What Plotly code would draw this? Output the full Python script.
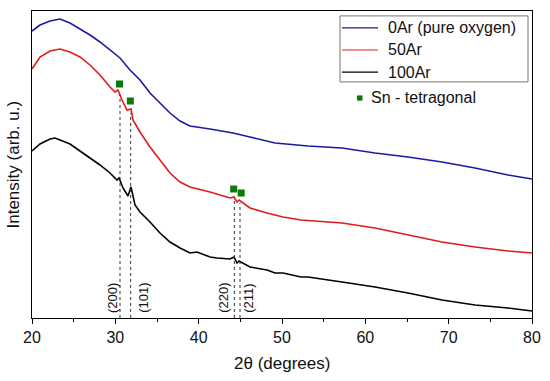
import plotly.graph_objects as go

# ---- data (arbitrary intensity units) ----
x_0ar = [20, 20.96, 22.16, 23.36, 24.56, 25.76, 26.96, 28.16, 29.36, 30.56, 31.76, 32.96,
         34.16, 35.36, 36.56, 37.76, 38.96, 41.36, 44.12, 46.16, 49.16, 53.12, 57.2, 61.16,
         65.12, 69.2, 73.16, 77.12, 80]
y_0ar = [287, 293, 297, 299, 295, 289, 283, 276, 268, 260, 248, 238,
         225, 215, 205, 197, 192, 189, 185, 181, 175, 172, 170, 165,
         161, 156, 150, 143, 139]

x_50ar = [20, 20.96, 22.16, 23.36, 24.56, 25.76, 26.96, 28.16, 29.36, 29.96, 30.32, 30.8,
          31.4, 31.88, 32.12, 32.96, 34.16, 35.36, 36.56, 37.76, 38.96, 41.36, 43.76, 44.24,
          44.6, 44.84, 46.16, 48.2, 49.16, 50.12, 52.28, 57.2, 61.16, 65.12, 69.2, 73.16,
          75.2, 77.12, 80]
y_50ar = [249, 261, 267, 269, 266, 261, 253, 243, 231, 226, 228, 218,
          208, 209, 198, 186, 171, 158, 145, 136, 131, 126, 120, 121,
          116, 118, 110, 105, 103, 101, 98, 95, 90, 83, 76, 71,
          69, 67, 65]

x_100ar = [20, 20.96, 22.16, 22.76, 23.36, 24.56, 25.76, 26.96, 28.16, 29.36, 30.2, 30.44,
           30.92, 31.52, 31.88, 32.36, 32.96, 34.16, 35.36, 36.56, 37.76, 38.96, 39.8, 41.36,
           42.2, 43.76, 44.24, 44.6, 44.84, 46.16, 48.2, 49.16, 50.12, 52.28, 53.12, 57.2,
           61.16, 65.12, 69.2, 73.16, 77.12, 80]
y_100ar = [167, 174, 179, 180, 178, 174, 167, 160, 153, 145, 138, 140,
           130, 122, 131, 113, 106, 96, 85, 76, 70, 65, 66, 61,
           60, 59, 61, 55, 57, 51, 48, 45, 45, 41, 41, 36,
           31, 25, 18, 13, 10, 7]

series_names = ["0Ar (pure oxygen)", "50Ar", "100Ar"]
series_colors = ["#1a1aa6", "#e01b1b", "#000000"]

# Sn tetragonal reflections
sn_marker_x = [30.5, 31.8, 44.2, 45.1]
sn_marker_y = [234, 217, 129, 125]
sn_line_x = [30.56, 31.84, 44.28, 44.96]
sn_line_top = [223, 205, 118, 115]
sn_labels = ["(200)", "(101)", "(220)", "(211)"]
sn_label_x = [29.6, 33.3, 42.9, 45.9]

FONT = "Liberation Sans, Arial"

fig = go.Figure()
for xs, ys, name, col in zip([x_0ar, x_50ar, x_100ar], [y_0ar, y_50ar, y_100ar],
                             series_names, series_colors):
    fig.add_trace(go.Scatter(x=xs, y=ys, mode="lines", name=name, showlegend=False,
                             line=dict(color=col, width=1.6)))

for lx, top in zip(sn_line_x, sn_line_top):
    fig.add_trace(go.Scatter(x=[lx, lx], y=[0, top], mode="lines", showlegend=False,
                             line=dict(color="#333333", width=1, dash="3px,3px")))

fig.add_trace(go.Scatter(x=sn_marker_x, y=sn_marker_y, mode="markers", showlegend=False,
                         marker=dict(symbol="square", size=7, color="#0a7a0a")))

for lab, lx in zip(sn_labels, sn_label_x):
    fig.add_annotation(x=lx, y=20, text=lab, textangle=-90, showarrow=False,
                       font=dict(size=13, color="#111111", family=FONT),
                       xanchor="center", yanchor="middle")

# legend box (drawn manually for exact row spacing)
fig.add_shape(type="rect", xref="paper", yref="paper", x0=0.616, x1=0.992,
              y0=0.769, y1=0.984, fillcolor="white", line=dict(color="#777777", width=1))
legend_rows_y = [0.945, 0.873, 0.801]
for name, col, ry in zip(series_names, series_colors, legend_rows_y):
    fig.add_shape(type="line", xref="paper", yref="paper", x0=0.62, x1=0.692,
                  y0=ry, y1=ry, line=dict(color=col, width=1.2))
    fig.add_annotation(xref="paper", yref="paper", x=0.708, y=ry, text=name,
                       showarrow=False, xanchor="left", yanchor="middle",
                       font=dict(size=16, color="#111111", family=FONT))

# Sn legend entry (outside legend box)
fig.add_shape(type="rect", xref="paper", yref="paper", x0=0.650, x1=0.661,
              y0=0.708, y1=0.725, fillcolor="#0a7a0a", line=dict(width=0))
fig.add_annotation(xref="paper", yref="paper", x=0.674, y=0.717, text="Sn - tetragonal",
                   showarrow=False, xanchor="left", yanchor="middle",
                   font=dict(size=16, color="#111111", family=FONT))

# axis titles
fig.add_annotation(xref="paper", yref="paper", x=0.5, y=-0.147, text="2θ (degrees)",
                   showarrow=False, xanchor="center", yanchor="middle",
                   font=dict(size=17, color="#111111", family=FONT))
fig.add_annotation(xref="paper", yref="paper", x=-0.038, y=0.5, text="Intensity (arb. u.)",
                   textangle=-90, showarrow=False, xanchor="center", yanchor="middle",
                   font=dict(size=17, color="#111111", family=FONT))

fig.update_layout(
    width=550, height=381,
    margin=dict(l=32, r=18, t=11, b=63, autoexpand=False),
    plot_bgcolor="white", paper_bgcolor="white",
    font=dict(family=FONT, size=15, color="#111111"),
    showlegend=False,
    xaxis=dict(range=[20, 80], tick0=20, dtick=10, ticks="outside", ticklen=5,
               tickcolor="black", showline=True, linecolor="black", linewidth=1,
               mirror=True, showgrid=False, zeroline=False, automargin=False,
               minor=dict(ticks="outside", ticklen=3, dtick=5, tickcolor="black"),
               tickfont=dict(size=16)),
    yaxis=dict(range=[0, 307], showticklabels=False, ticks="", showline=True,
               linecolor="black", linewidth=1, mirror=True, showgrid=False,
               zeroline=False, automargin=False),
)

fig.write_html("out.html", config={"displayModeBar": False},
               post_script="document.body.style.margin='0';")
